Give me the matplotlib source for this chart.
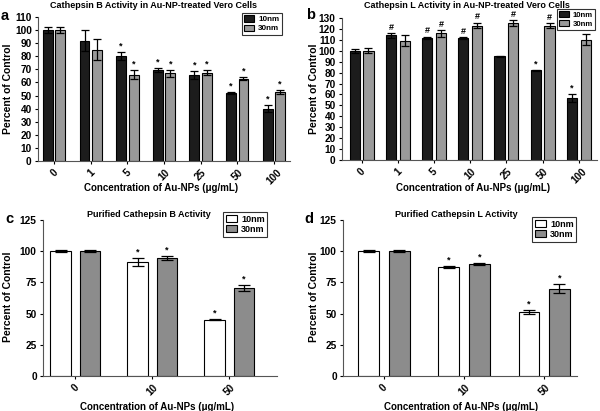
import numpy as np
import matplotlib.pyplot as plt

plt.rcParams['font.family'] = ['Liberation Sans', 'DejaVu Sans']
plt.rcParams['font.weight'] = 'bold'

# panel a - Cathepsin B in cells
conc_ab = ['0', '1', '5', '10', '25', '50', '100']
a_10 = [100, 92, 80, 69.5, 66, 52, 40]
a_10_err = [2, 8, 3, 1.5, 3, 0.5, 2.5]
a_30 = [100, 85, 66, 67, 67.5, 63, 53]
a_30_err = [2, 8, 3.5, 2.5, 2, 1.5, 1.5]
a_10_mark = ['', '', '*', '*', '*', '*', '*']
a_30_mark = ['', '', '*', '*', '*', '*', '*']

# panel b - Cathepsin L in cells
b_10 = [100, 114, 112, 111.5, 95, 82, 57]
b_10_err = [2, 2, 1, 1, 0.5, 0.5, 3.5]
b_30 = [100, 109, 116, 123, 125.5, 123, 110]
b_30_err = [2.5, 5, 3, 2.5, 2.5, 2, 5]
b_10_mark = ['', '#', '#', '#', '', '*', '*']
b_30_mark = ['', '', '#', '#', '#', '#', '']

# panels c, d - purified enzyme
conc_cd = ['0', '10', '50']
c_10 = [100, 91.5, 45]
c_10_err = [1, 3, 0.5]
c_30 = [100, 94.5, 70.5]
c_30_err = [1, 1.5, 2.5]
c_mark = ['', '*', '*']
d_10 = [100, 87, 51]
d_10_err = [0.8, 0.8, 1.5]
d_30 = [100, 90, 70]
d_30_err = [0.8, 0.8, 3.5]
d_mark = ['', '*', '*']

W, H = 600, 411


def px(x, y):
    # pixel position -> figure fraction
    return x / W, 1 - y / H


def panel(ax, labels, v10, e10, v30, e30, m10, m30, c10, c30, w, off,
          ylim, yticks, xlim, leg_xy, leg_fs, cap):
    x = np.arange(len(labels))
    ax.bar(x - off, v10, w, color=c10, edgecolor='black', linewidth=0.8, label='10nm')
    ax.bar(x + off, v30, w, color=c30, edgecolor='black', linewidth=0.8, label='30nm')
    ax.errorbar(x - off, v10, yerr=e10, fmt='none', ecolor='black', elinewidth=0.9, capsize=cap, capthick=0.9)
    ax.errorbar(x + off, v30, yerr=e30, fmt='none', ecolor='black', elinewidth=0.9, capsize=cap, capthick=0.9)
    pad = ylim[1] * 0.01
    for i in range(len(labels)):
        if m10[i]:
            ax.text(x[i] - off, v10[i] + e10[i] + pad, m10[i], ha='center', va='bottom', fontsize=6.5)
        if m30[i]:
            ax.text(x[i] + off, v30[i] + e30[i] + pad, m30[i], ha='center', va='bottom', fontsize=6.5)
    ax.set_ylim(*ylim)
    ax.set_yticks(yticks)
    ax.set_xlim(*xlim)
    ax.set_xticks(x)
    ax.set_xticklabels(labels, rotation=45, ha='center', fontsize=7.3)
    ax.tick_params(axis='y', labelsize=7.3, length=2.5, width=0.8, pad=2)
    ax.tick_params(axis='x', length=2.5, width=0.8, pad=2)
    for s in ['top', 'right']:
        ax.spines[s].set_visible(False)
    ax.spines['left'].set_color('#555555')
    ax.spines['bottom'].set_color('#555555')
    leg = ax.legend(loc='upper left', bbox_to_anchor=px(*leg_xy), bbox_transform=fig.transFigure,
                    fontsize=leg_fs, frameon=True, fancybox=False, edgecolor='black',
                    handlelength=1.2, handleheight=0.8, borderpad=0.3, labelspacing=0.15,
                    handletextpad=0.5, borderaxespad=0)
    leg.get_frame().set_linewidth(0.8)


fig = plt.figure(figsize=(6, 4.11), dpi=100)

ax_a = fig.add_axes([38 / W, 1 - 161 / H, 252 / W, 144 / H])
panel(ax_a, conc_ab, a_10, a_10_err, a_30, a_30_err, a_10_mark, a_30_mark,
      '#1c1c1c', '#9a9a9a', 0.27, 0.17, (0, 110), range(0, 111, 10),
      (-0.44, 6.44), (242, 13), 5.8, 3)

ax_b = fig.add_axes([342 / W, 1 - 160 / H, 255 / W, 142 / H])
panel(ax_b, conc_ab, b_10, b_10_err, b_30, b_30_err, b_10_mark, b_30_mark,
      '#1c1c1c', '#9a9a9a', 0.28, 0.19, (0, 130), range(0, 131, 10),
      (-0.54, 6.5), (557, 9), 5.6, 3)

ax_c = fig.add_axes([43 / W, 1 - 376 / H, 234 / W, 156 / H])
panel(ax_c, conc_cd, c_10, c_10_err, c_30, c_30_err, c_mark, c_mark,
      'white', '#8c8c8c', 0.27, 0.19, (0, 125), range(0, 126, 25),
      (-0.42, 2.62), (223, 212), 6.5, 4)

ax_d = fig.add_axes([343 / W, 1 - 376 / H, 234 / W, 156 / H])
panel(ax_d, conc_cd, d_10, d_10_err, d_30, d_30_err, d_mark, d_mark,
      'white', '#8c8c8c', 0.26, 0.19, (0, 125), range(0, 126, 25),
      (-0.51, 2.41), (532, 217), 6.5, 4)

# titles, panel letters and axis labels placed as in the figure
titles = ['Cathepsin B Activity in Au-NP-treated Vero Cells',
          'Cathepsin L Activity in Au-NP-treated Vero Cells',
          'Purified Cathepsin B Activity',
          'Purified Cathepsin L Activity']
title_xy = [(154, 5), (467, 5), (149, 214), (456, 214)]
letters = ['a', 'b', 'c', 'd']
letter_xy = [(5, 16), (311, 15), (9, 219), (309, 219)]
ylab_xy = [(8, 89), (314, 89), (8, 297), (314, 297)]
xlab_xy = [(161, 188), (473, 188), (157, 407), (461, 407)]
xlabel = 'Concentration of Au-NPs (\u03bcg/mL)'

for i in range(4):
    fig.text(*px(*title_xy[i]), titles[i], ha='center', va='center', fontsize=6.5, fontweight='bold')
    fig.text(*px(*letter_xy[i]), letters[i], ha='center', va='center', fontsize=10.5, fontweight='bold')
    fig.text(*px(*ylab_xy[i]), 'Percent of Control', ha='center', va='center', rotation=90,
             fontsize=7.5, fontweight='bold')
    fig.text(*px(*xlab_xy[i]), xlabel, ha='center', va='center', fontsize=7, fontweight='bold')

fig.savefig('out.png', dpi=100)
